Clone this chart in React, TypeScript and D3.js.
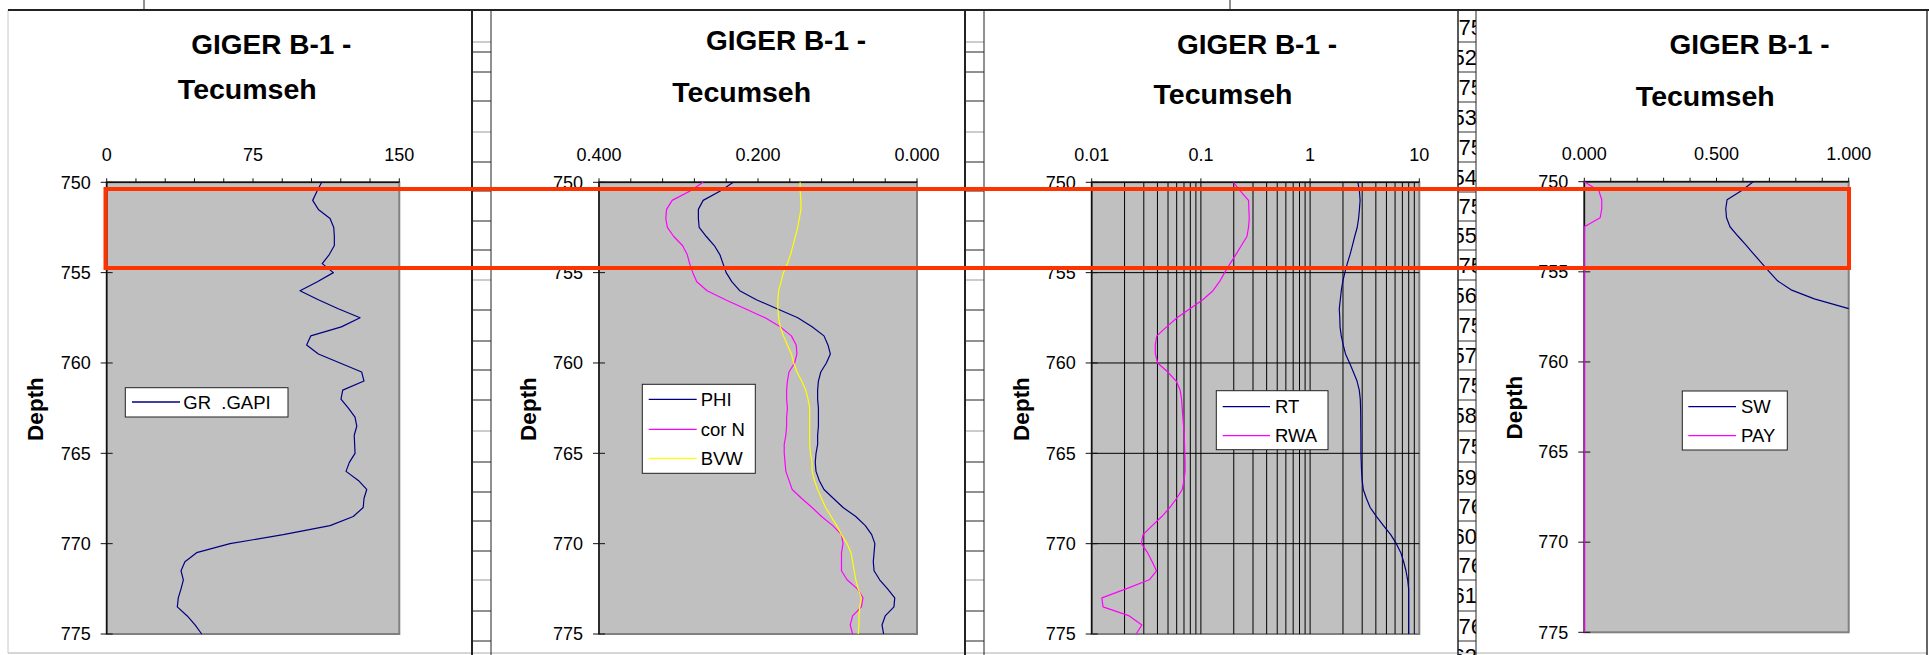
import React from 'react';
import * as d3 from 'd3';

// depth samples (ft), every half foot
const depth = [
  750, 750.5, 751, 751.5, 752, 752.5, 753, 753.5, 754, 754.5,
  755, 755.5, 756, 756.5, 757, 757.5, 758, 758.5, 759, 759.5,
  760, 760.5, 761, 761.5, 762, 762.5, 763, 763.5, 764, 764.5,
  765, 765.5, 766, 766.5, 767, 767.5, 768, 768.5, 769, 769.5,
  770, 770.5, 771, 771.5, 772, 772.5, 773, 773.5, 774, 774.5,
  775,
];

const gr = [
  110.2, 107.8, 105.6, 108.5, 114.5, 116.4, 116.7, 116.7, 114.1, 110.5,
  116.2, 108, 99.1, 108.5, 118.7, 129.9, 120.3, 104.6, 102.5, 108.5,
  119.6, 130.7, 131.9, 121, 120.1, 123.9, 127.3, 128.2, 126.9, 127.1,
  127.3, 124.4, 122.7, 129, 133.3, 131.9, 131.5, 126.4, 114.5, 90.5,
  63.2, 46.1, 40.1, 38.1, 39.3, 38.1, 36.7, 36.2, 41.3, 45.3,
  48.7,
];

const phi = [
  0.231, 0.248, 0.269, 0.275, 0.275, 0.274, 0.265, 0.255, 0.248, 0.244,
  0.240, 0.233, 0.223, 0.202, 0.176, 0.150, 0.132, 0.117, 0.112, 0.109,
  0.114, 0.121, 0.124, 0.125, 0.125, 0.124, 0.124, 0.124, 0.125, 0.125,
  0.127, 0.128, 0.127, 0.123, 0.117, 0.105, 0.093, 0.077, 0.065, 0.057,
  0.053, 0.054, 0.055, 0.054, 0.047, 0.037, 0.028, 0.029, 0.040, 0.044,
  0.042,
];

const corN = [
  0.269, 0.286, 0.308, 0.315, 0.316, 0.314, 0.306, 0.295, 0.289, 0.286,
  0.282, 0.277, 0.264, 0.241, 0.216, 0.191, 0.172, 0.158, 0.152, 0.151,
  0.154, 0.161, 0.163, 0.164, 0.164, 0.163, 0.164, 0.164, 0.165, 0.167,
  0.167, 0.166, 0.165, 0.161, 0.157, 0.145, 0.132, 0.120, 0.106, 0.095,
  0.093, 0.095, 0.095, 0.095, 0.088, 0.075, 0.068, 0.070, 0.081, 0.084,
  0.081,
];

const bvw = [
  0.147, 0.147, 0.146, 0.146, 0.148, 0.150, 0.153, 0.156, 0.159, 0.163,
  0.168, 0.171, 0.174, 0.175, 0.175, 0.174, 0.172, 0.168, 0.163, 0.158,
  0.155, 0.151, 0.145, 0.140, 0.137, 0.135, 0.135, 0.135, 0.135, 0.135,
  0.134, 0.132, 0.132, 0.129, 0.125, 0.120, 0.115, 0.108, 0.101, 0.095,
  0.088, 0.083, 0.081, 0.079, 0.077, 0.074, 0.070, 0.072, 0.073, 0.073,
  0.074,
];

const rt = [
  2.74, 2.83, 2.87, 2.83, 2.78, 2.70, 2.56, 2.44, 2.32, 2.19,
  2.08, 1.99, 1.93, 1.89, 1.85, 1.87, 1.88, 1.93, 2.01, 2.11,
  2.30, 2.49, 2.69, 2.82, 2.88, 2.90, 2.91, 2.91, 2.92, 2.92,
  2.92, 2.94, 2.96, 3.00, 3.07, 3.28, 3.55, 4.06, 4.70, 5.47,
  6.16, 6.77, 7.19, 7.55, 7.82, 7.99, 7.99, 7.99, 7.99, 7.99,
  7.99,
];

const rwa = [
  0.199, 0.231, 0.273, 0.275, 0.277, 0.273, 0.264, 0.235, 0.209, 0.185,
  0.165, 0.148, 0.129, 0.104, 0.0794, 0.0604, 0.0485, 0.0395, 0.0382, 0.0383,
  0.0402, 0.0497, 0.0594, 0.0645, 0.0665, 0.0674, 0.0684, 0.0694, 0.0704, 0.0708,
  0.0712, 0.0716, 0.0716, 0.070, 0.0675, 0.0598, 0.0519, 0.0438, 0.0358, 0.0295,
  0.0285, 0.0325, 0.0358, 0.0392, 0.0337, 0.0206, 0.0124, 0.0127, 0.0221, 0.0288,
  0.0255,
];

// SW runs off the right edge below ~757 ft
const sw = [
  0.639, 0.594, 0.540, 0.535, 0.538, 0.551, 0.580, 0.611, 0.640, 0.670,
  0.700, 0.731, 0.782, 0.870, 0.990, 1.12,
];

const pay = [
  0, 0.055, 0.066, 0.066, 0.06, 0, 0, 0, 0, 0,
  0, 0, 0, 0, 0, 0, 0, 0, 0, 0,
  0, 0, 0, 0, 0, 0, 0, 0, 0, 0,
  0, 0, 0, 0, 0, 0, 0, 0, 0, 0,
  0, 0, 0, 0, 0, 0, 0, 0, 0, 0,
  0,
];

const depthTicks = [750, 755, 760, 765, 770, 775];
const grTicks = [0, 15, 30, 45, 60, 75, 90, 105, 120, 135, 150];
const grLabels = [0, 75, 150];
const phiTicks = [0.4, 0.36, 0.32, 0.28, 0.24, 0.2, 0.16, 0.12, 0.08, 0.04, 0];
const phiLabels = [0.4, 0.2, 0];
const resTicks = [0.01, 0.1, 1, 10];
const resGrid = [
  0.02, 0.03, 0.04, 0.05, 0.06, 0.07, 0.08, 0.09, 0.1,
  0.2, 0.3, 0.4, 0.5, 0.6, 0.7, 0.8, 0.9, 1,
  2, 3, 4, 5, 6, 7, 8, 9,
];
const swTicks = [0, 0.1, 0.2, 0.3, 0.4, 0.5, 0.6, 0.7, 0.8, 0.9, 1];
const swLabels = [0, 0.5, 1];

// spreadsheet cells between the charts
const blankRows = [42, 52, 72, 101, 132, 162, 191, 221, 250, 280, 310, 341, 370, 400, 431, 462, 492, 521, 551, 580, 611, 641];
const numRows = [12, 42, 72, 102, 132, 162, 192, 221, 250, 280, 310, 341, 370, 400, 431, 462, 492, 521, 551, 580, 611, 641, 671];
const numLabels = ['752', '753', '754', '755', '756', '757', '758', '759', '760', '761', '762'];

const FONT = "'Liberation Sans', Arial, sans-serif";
const NAVY = '#000080';
const MAGENTA = '#ff00ff';
const YELLOW = '#ffff00';

type Series = { name: string; values: number[]; color: string };
type PanelCfg = {
  id: string;
  plot: { l: number; r: number; t: number; b: number };
  log?: boolean;
  domain: [number, number];
  ticks: number[];
  labels: number[];
  fmt: (v: number) => string;
  grid?: number[];
  title: { gx: number; gy: number; tx: number; ty: number };
  depthX: number;
  depthY: number;
  legend: { x: number; y: number; w: number; h: number; x1: number; x2: number; tx: number; rows: number[] };
  series: Series[];
};

const fmt3 = d3.format('.3f');

const panels: PanelCfg[] = [
  {
    id: 'gr',
    plot: { l: 106.7, r: 399.3, t: 182.3, b: 634 },
    domain: [0, 150],
    ticks: grTicks,
    labels: grLabels,
    fmt: d3.format('d'),
    title: { gx: 271.3, gy: 54, tx: 247.3, ty: 99.3 },
    depthX: 35,
    depthY: 409,
    legend: { x: 125.3, y: 387.7, w: 162.7, h: 29.3, x1: 132, x2: 180, tx: 183.3, rows: [402] },
    series: [{ name: 'GR  .GAPI', values: gr, color: NAVY }],
  },
  {
    id: 'phi',
    plot: { l: 599, r: 917, t: 182.3, b: 634 },
    domain: [0.4, 0],
    ticks: phiTicks,
    labels: phiLabels,
    fmt: fmt3,
    title: { gx: 786, gy: 50, tx: 741.7, ty: 101.7 },
    depthX: 528.3,
    depthY: 409,
    legend: { x: 642.3, y: 384.3, w: 113, h: 89, x1: 648.7, x2: 696.7, tx: 700.7, rows: [399.3, 429.3, 458.3] },
    series: [
      { name: 'PHI', values: phi, color: NAVY },
      { name: 'cor N', values: corN, color: MAGENTA },
      { name: 'BVW', values: bvw, color: YELLOW },
    ],
  },
  {
    id: 'res',
    plot: { l: 1091.7, r: 1419.3, t: 182.3, b: 634 },
    log: true,
    domain: [0.01, 10],
    ticks: resTicks,
    labels: resTicks,
    fmt: (v) => String(v),
    grid: resGrid,
    title: { gx: 1257, gy: 54, tx: 1223, ty: 104.3 },
    depthX: 1021,
    depthY: 409,
    legend: { x: 1216.3, y: 390.7, w: 111.7, h: 59, x1: 1222.7, x2: 1270, tx: 1275, rows: [406.7, 435.7] },
    series: [
      { name: 'RT', values: rt, color: NAVY },
      { name: 'RWA', values: rwa, color: MAGENTA },
    ],
  },
  {
    id: 'sw',
    plot: { l: 1584.3, r: 1848.7, t: 181.7, b: 632.3 },
    domain: [0, 1],
    ticks: swTicks,
    labels: swLabels,
    fmt: fmt3,
    title: { gx: 1749.5, gy: 54, tx: 1705.3, ty: 106 },
    depthX: 1513.8,
    depthY: 407.5,
    legend: { x: 1682.3, y: 391, w: 105, h: 59, x1: 1688.3, x2: 1736, tx: 1741, rows: [406.7, 435.7] },
    series: [
      { name: 'SW', values: sw, color: NAVY },
      { name: 'PAY', values: pay, color: MAGENTA },
    ],
  },
];

const Panel: React.FC<{ c: PanelCfg }> = ({ c }) => {
  const { l, r, t, b } = c.plot;
  const x = c.log
    ? d3.scaleLog().domain(c.domain).range([l, r])
    : d3.scaleLinear().domain(c.domain).range([l, r]);
  const y = d3.scaleLinear().domain([750, 775]).range([t, b]);
  const path = (vals: number[]) =>
    d3.line<number>().x((v) => x(v)).y((_, i) => y(depth[i]))(vals) ?? '';

  return (
    <g fontFamily={FONT}>
      <text x={c.title.gx} y={c.title.gy} textAnchor="middle" fontSize={28} fontWeight="bold">GIGER B-1 -</text>
      <text x={c.title.tx} y={c.title.ty} textAnchor="middle" fontSize={28.5} fontWeight="bold">Tecumseh</text>

      <rect x={l} y={t} width={r - l} height={b - t} fill="#c0c0c0" stroke="#808080" strokeWidth={2} />

      {c.grid && c.grid.map((g) => (
        <line key={'g' + g} x1={x(g)} x2={x(g)} y1={t} y2={b} stroke="#000" strokeWidth={1} />
      ))}
      {c.grid && depthTicks.slice(1, -1).map((d) => (
        <line key={'h' + d} x1={l} x2={r} y1={y(d)} y2={y(d)} stroke="#000" strokeWidth={1} />
      ))}

      <line x1={l} x2={r} y1={t} y2={t} stroke="#111" strokeWidth={1.5} />
      <line x1={l} x2={l} y1={t} y2={b} stroke="#111" strokeWidth={1.5} />

      {c.ticks.map((v) => (
        <line key={'xt' + v} x1={x(v)} x2={x(v)} y1={t} y2={t - 4} stroke="#111" strokeWidth={1} />
      ))}
      {c.labels.map((v) => (
        <text key={'xl' + v} x={x(v)} y={t - 21.5} textAnchor="middle" fontSize={18}>{c.fmt(v)}</text>
      ))}

      {depthTicks.map((d) => (
        <g key={'yt' + d}>
          <line x1={l - 6} x2={l + 6} y1={y(d)} y2={y(d)} stroke="#111" strokeWidth={1} />
          <text x={l - 16} y={y(d)} dy="0.35em" textAnchor="end" fontSize={18}>{d}</text>
        </g>
      ))}

      <text
        transform={`translate(${c.depthX},${c.depthY}) rotate(-90)`}
        textAnchor="middle"
        dy="0.35em"
        fontSize={22.5}
        fontWeight="bold"
      >
        Depth
      </text>

      <clipPath id={'clip-' + c.id}>
        <rect x={l - 2} y={t - 1} width={r - l + 2} height={b - t + 2} />
      </clipPath>
      <g clipPath={`url(#clip-${c.id})`}>
        {c.series.map((s) => (
          <path key={s.name} d={path(s.values)} fill="none" stroke={s.color} strokeWidth={1.2} strokeLinejoin="round" />
        ))}
      </g>

      <rect x={c.legend.x} y={c.legend.y} width={c.legend.w} height={c.legend.h} fill="#fff" stroke="#222" strokeWidth={1} />
      {c.series.map((s, i) => (
        <g key={'lg' + s.name}>
          <line x1={c.legend.x1} x2={c.legend.x2} y1={c.legend.rows[i]} y2={c.legend.rows[i]} stroke={s.color} strokeWidth={1.3} />
          <text x={c.legend.tx} y={c.legend.rows[i]} dy="0.36em" fontSize={18.5} style={{ whiteSpace: 'pre' }}>{s.name}</text>
        </g>
      ))}
    </g>
  );
};

const BlankColumn: React.FC<{ x1: number; x2: number }> = ({ x1, x2 }) => (
  <g>
    {blankRows.map((ry, i) => (
      <line key={ry} x1={x1} x2={x2} y1={ry} y2={ry} stroke={i === 0 || i % 5 === 4 ? '#999' : '#222'} strokeWidth={1} />
    ))}
    <line x1={x1} x2={x1} y1={10} y2={655} stroke="#222" strokeWidth={2} />
    <line x1={x2} x2={x2} y1={10} y2={655} stroke="#222" strokeWidth={1} />
  </g>
);

const NumberColumn: React.FC<{ x1: number; x2: number }> = ({ x1, x2 }) => (
  <g fontFamily={FONT}>
    <clipPath id="numcol">
      <rect x={x1} y={10} width={x2 - x1} height={645} />
    </clipPath>
    <g clipPath="url(#numcol)">
      {numRows.slice(0, -1).map((ry, i) => {
        const label = numLabels[Math.floor(i / 2)];
        const cy = (ry + numRows[i + 1]) / 2;
        const left = i % 2 === 0;
        return (
          <text key={ry} x={left ? x1 + 0.5 : x2 + 1} y={cy} dy="0.36em" fontSize={22} textAnchor={left ? 'start' : 'end'}>
            {label}
          </text>
        );
      })}
    </g>
    {numRows.slice(1, -1).map((ry) => (
      <line key={ry} x1={x1} x2={x2} y1={ry} y2={ry} stroke="#333" strokeWidth={1} />
    ))}
    <line x1={x1} x2={x1} y1={10} y2={655} stroke="#222" strokeWidth={1.5} />
    <line x1={x2} x2={x2} y1={10} y2={655} stroke="#222" strokeWidth={1} />
  </g>
);

const App: React.FC = () => {
  return (
    <div style={{ position: 'absolute', left: 0, top: 0 }}>
      <svg width={1929} height={655} style={{ display: 'block', background: '#fff' }}>
        {/* sheet frame */}
        <line x1={144} x2={144} y1={0} y2={10} stroke="#222" strokeWidth={1} />
        <line x1={1230} x2={1230} y1={0} y2={10} stroke="#222" strokeWidth={1} />
        <line x1={8} x2={8} y1={10} y2={653} stroke="#c8c8c8" strokeWidth={1} />
        <line x1={8} x2={1927} y1={653} y2={653} stroke="#c8c8c8" strokeWidth={1.5} />
        <line x1={1927} x2={1927} y1={10} y2={655} stroke="#333" strokeWidth={1.5} />

        <BlankColumn x1={472} x2={491} />
        <BlankColumn x1={965} x2={984} />
        <NumberColumn x1={1458} x2={1476} />

        <line x1={8} x2={1929} y1={10} y2={10} stroke="#222" strokeWidth={2} />

        {panels.map((p) => (
          <Panel key={p.id} c={p} />
        ))}

        {/* highlight box */}
        <rect x={105.5} y={189} width={1743.5} height={79} fill="none" stroke="#ff3300" strokeWidth={4} />
      </svg>
    </div>
  );
};

export default App;
